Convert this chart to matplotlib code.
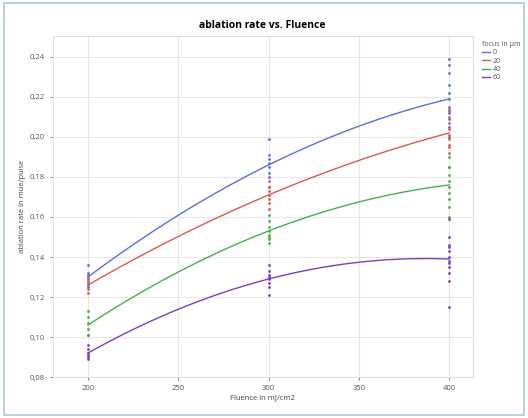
import matplotlib
matplotlib.use("Agg")
import matplotlib.pyplot as plt
import numpy as np
from matplotlib.patches import Rectangle
from matplotlib.ticker import FuncFormatter

plt.rcParams['font.family'] = ['Open Sans', 'DejaVu Sans']

# Messwerte: Fluenz und Abtragsrate je Fokuslage
fluence = [200, 300, 400]
focus = ["0", "20", "40", "60"]
colors = ['#5b6fd8', '#e0574f', '#45b04c', '#7a3fbf']

rate_0 = [
    [0.136, 0.132, 0.131, 0.129, 0.127, 0.125],
    [0.199, 0.191, 0.189, 0.187, 0.185, 0.182, 0.180, 0.175],
    [0.239, 0.236, 0.232, 0.226, 0.222, 0.219, 0.215, 0.212, 0.209, 0.205, 0.200, 0.213],
]
rate_20 = [
    [0.130, 0.128, 0.126, 0.124, 0.122],
    [0.178, 0.175, 0.173, 0.171, 0.169, 0.167, 0.164],
    [0.214, 0.210, 0.207, 0.204, 0.201, 0.199, 0.196, 0.192, 0.195],
]
rate_40 = [
    [0.113, 0.110, 0.107, 0.104, 0.101, 0.101],
    [0.161, 0.158, 0.155, 0.153, 0.151, 0.149, 0.147, 0.150],
    [0.190, 0.185, 0.181, 0.178, 0.175, 0.172, 0.169, 0.165, 0.160, 0.185],
]
rate_60 = [
    [0.096, 0.094, 0.092, 0.091, 0.089, 0.090],
    [0.136, 0.133, 0.131, 0.129, 0.127, 0.125, 0.121, 0.130],
    [0.150, 0.146, 0.143, 0.140, 0.138, 0.135, 0.132, 0.128, 0.115, 0.145, 0.137, 0.159],
]
rates = [rate_0, rate_20, rate_40, rate_60]

fig = plt.figure(figsize=(5.28, 4.18), dpi=100)
ax = fig.add_axes([0.100, 0.098, 0.795, 0.816])

# Rahmen um die ganze Grafik
fig.patches.append(Rectangle((0.008, 0.008), 0.984, 0.984, transform=fig.transFigure,
                             fill=False, edgecolor='#a9c9d9', linewidth=1.2))

xs_fit = np.linspace(200, 400, 100)
for i, groups in enumerate(rates):
    xs = np.concatenate([[f] * len(g) for f, g in zip(fluence, groups)])
    ys = np.concatenate(groups)
    ax.scatter(xs, ys, s=4, color=colors[i], zorder=3, linewidths=0)
    # quadratischer Fit wie im Original
    p = np.polyfit(xs, ys, 2)
    ax.plot(xs_fit, np.polyval(p, xs_fit), color=colors[i], linewidth=1.0,
            label=focus[i], zorder=2)

ax.set_xlim(180.5, 413)
ax.set_ylim(0.08, 0.2505)
ax.set_xticks([200, 250, 300, 350, 400])
ax.set_yticks(np.arange(0.08, 0.2401, 0.02))
ax.yaxis.set_major_formatter(FuncFormatter(lambda v, _: f"{v:.2f}".replace('.', ',')))
ax.grid(True, color='#e6e6e6', linewidth=0.8)
ax.set_axisbelow(True)
for s in ax.spines.values():
    s.set_color('#e8dcd6')
    s.set_linewidth(0.8)
ax.tick_params(labelsize=5.5, colors='#555555', length=2, width=0.5)

ax.set_title("ablation rate vs. Fluence", fontsize=7.5, fontweight='bold', pad=6)
ax.set_xlabel("Fluence in mJ/cm2", fontsize=5.5, color='#444444', labelpad=2)
ax.set_ylabel("ablation rate in mue/pulse", fontsize=5.5, color='#444444', labelpad=3)

leg = ax.legend(title="focus in µm", loc='upper left', bbox_to_anchor=(1.01, 1.0),
                fontsize=5, title_fontsize=5, frameon=False, handlelength=1.2,
                handletextpad=0.4, labelspacing=0.2, borderaxespad=0.3)
leg._legend_box.align = "left"
for t in leg.get_texts():
    t.set_color('#555555')
leg.get_title().set_color('#555555')

fig.savefig("out.png", dpi=100)
